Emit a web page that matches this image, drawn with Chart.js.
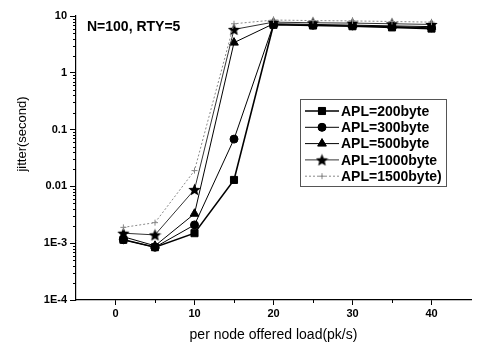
<!DOCTYPE html>
<html lang="en">
<head>
  <meta charset="UTF-8">
  <title>jitter vs offered load</title>
  <style>
    html, body { margin: 0; padding: 0; background: #fff; }
    #wrap { width: 478px; height: 344px; position: relative; }
  </style>
</head>
<body>
  <div id="wrap"><canvas id="chart" width="478" height="344"></canvas></div>
  <script src="https://cdn.jsdelivr.net/npm/chart.js"></script>
  <script>
    // data
    const load = [1, 5, 10, 15, 20, 25, 30, 35, 40];
    const apl200 = [0.00115, 0.00085, 0.0015, 0.013, 7.0, 6.8, 6.6, 6.3, 6.0];
    const apl300 = [0.00115, 0.00085, 0.0021, 0.068, 7.1, 6.9, 6.7, 6.5, 6.2];
    const apl500 = [0.0013, 0.0009, 0.0033, 3.4, 7.3, 7.1, 6.9, 6.7, 6.5];
    const apl1000 = [0.0015, 0.0014, 0.0088, 5.8, 7.8, 7.6, 7.5, 7.3, 7.1];
    const apl1500 = [0.0019, 0.0023, 0.019, 7.3, 8.5, 8.3, 8.2, 8.0, 7.8];
    const seriesNames = ['APL=200byte', 'APL=300byte', 'APL=500byte', 'APL=1000byte', 'APL=1500byte)'];
    const yTicks = [1e-4, 1e-3, 0.01, 0.1, 1, 10];
    const yTickLabels = ['1E-4', '1E-3', '0.01', '0.1', '1', '10'];
    const xTicks = [0, 10, 20, 30, 40];
    const note = 'N=100, RTY=5';

    const FONT = '"Liberation Sans", Arial, sans-serif';

    // filled five point star for the 1000byte series
    function starImage(size) {
      const c = document.createElement('canvas');
      c.width = size; c.height = size;
      const g = c.getContext('2d');
      const r = size / 2, ri = r * 0.45;
      g.beginPath();
      for (let i = 0; i < 10; i++) {
        const rad = i % 2 ? ri : r;
        const a = -Math.PI / 2 + i * Math.PI / 5;
        const px = r + rad * Math.cos(a), py = r + 0.6 + rad * Math.sin(a);
        i ? g.lineTo(px, py) : g.moveTo(px, py);
      }
      g.closePath();
      g.fillStyle = '#000';
      g.fill();
      return c;
    }
    const star = starImage(13);

    const values = [apl200, apl300, apl500, apl1000, apl1500];
    const styles = [
      { color: '#000', width: 1.6, point: 'rect', radius: 5, dash: [] },
      { color: '#000', width: 1, point: 'circle', radius: 4, dash: [] },
      { color: '#000', width: 1, point: 'triangle', radius: 5, dash: [] },
      { color: '#333', width: 1, point: star, radius: 6, dash: [] },
      { color: '#888', width: 1, point: 'cross', radius: 3, dash: [2, 2] }
    ];

    const datasets = values.map((v, i) => ({
      label: seriesNames[i],
      data: load.map((x, j) => ({ x: x, y: v[j] })),
      borderColor: styles[i].color,
      backgroundColor: styles[i].color,
      borderWidth: styles[i].width,
      borderDash: styles[i].dash,
      pointStyle: styles[i].point,
      pointRadius: styles[i].radius,
      pointBorderWidth: 1,
      pointBorderColor: styles[i].color,
      pointBackgroundColor: styles[i].color,
      tension: 0
    })).reverse();

    // minor ticks, note, y title and the boxed legend
    const extras = {
      id: 'extras',
      afterDraw(chart) {
        const ctx = chart.ctx;
        const xs = chart.scales.x, ys = chart.scales.y;
        const left = chart.chartArea.left, bottom = chart.chartArea.bottom;
        ctx.save();
        ctx.strokeStyle = '#000';
        ctx.lineWidth = 1;
        ctx.beginPath();
        for (let e = -4; e < 1; e++) {
          for (let m = 2; m <= 9; m++) {
            const py = Math.round(ys.getPixelForValue(m * Math.pow(10, e))) + 0.5;
            ctx.moveTo(left - 3, py); ctx.lineTo(left, py);
          }
        }
        [5, 15, 25, 35].forEach(v => {
          const px = Math.round(xs.getPixelForValue(v)) + 0.5;
          ctx.moveTo(px, bottom); ctx.lineTo(px, bottom + 3);
        });
        ctx.stroke();

        ctx.fillStyle = '#000';
        ctx.font = 'bold 14px ' + FONT;
        ctx.textBaseline = 'middle';
        ctx.fillText(note, 87, 27);

        ctx.save();
        ctx.translate(22, 134);
        ctx.rotate(-Math.PI / 2);
        ctx.textAlign = 'center';
        ctx.font = '13px ' + FONT;
        ctx.fillText('jitter(second)', 0, 0);
        ctx.restore();

        // legend box
        const bx = 300.5, by = 99.5, bw = 146, bh = 87;
        ctx.strokeStyle = '#555';
        ctx.strokeRect(bx, by, bw, bh);
        ctx.font = 'bold 14px ' + FONT;
        ctx.textAlign = 'left';
        for (let i = 0; i < seriesNames.length; i++) {
          const s = styles[i];
          const ly = 111 + i * 16.3;
          ctx.strokeStyle = s.color;
          ctx.lineWidth = s.width;
          ctx.setLineDash(s.dash);
          ctx.beginPath();
          ctx.moveTo(305, ly); ctx.lineTo(339, ly);
          ctx.stroke();
          ctx.setLineDash([]);
          ctx.lineWidth = 1;
          ctx.fillStyle = s.color;
          Chart.helpers.drawPoint(ctx, { pointStyle: s.point, radius: s.radius, borderWidth: 1, rotation: 0 }, 322, ly);
          ctx.fill();
          ctx.fillStyle = '#000';
          ctx.fillText(seriesNames[i], 341, ly + 1);
        }
        ctx.restore();
      }
    };

    new Chart(document.getElementById('chart'), {
      type: 'line',
      data: { datasets: datasets },
      plugins: [extras],
      options: {
        responsive: false,
        animation: false,
        devicePixelRatio: 1,
        layout: { padding: { top: 16, right: 3, left: 0, bottom: 0 } },
        plugins: { legend: { display: false }, tooltip: { enabled: false } },
        scales: {
          x: {
            type: 'linear',
            min: -5, max: 45,
            afterBuildTicks: s => { s.ticks = xTicks.map(v => ({ value: v })); },
            afterFit: s => { s.height = 44; },
            grid: { drawOnChartArea: false, tickLength: 5, color: '#000' },
            border: { color: '#000', width: 1.2 },
            ticks: { color: '#000', font: { family: FONT, size: 11, weight: 'bold' }, padding: 2, maxRotation: 0 },
            title: { display: true, text: 'per node offered load(pk/s)', color: '#000', font: { family: FONT, size: 14 }, padding: { top: 2, bottom: 0 } }
          },
          y: {
            type: 'logarithmic',
            min: 1e-4, max: 10,
            afterBuildTicks: s => { s.ticks = yTicks.map(v => ({ value: v })); },
            afterFit: s => { s.width = 76; },
            grid: { drawOnChartArea: false, tickLength: 6, color: '#000' },
            border: { color: '#000', width: 1.2 },
            ticks: {
              color: '#000', font: { family: FONT, size: 11, weight: 'bold' }, padding: 3,
              callback: v => { const k = yTicks.findIndex(t => Math.abs(t - v) / t < 1e-6); return k >= 0 ? yTickLabels[k] : ''; }
            }
          }
        }
      }
    });
  </script>
</body>
</html>
